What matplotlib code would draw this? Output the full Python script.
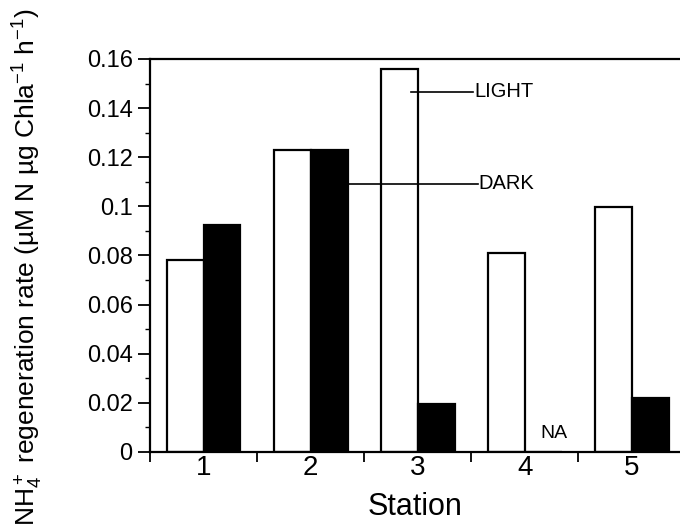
import matplotlib.pyplot as plt
import numpy as np

plt.rcParams['font.family'] = ['Liberation Sans', 'DejaVu Sans']
plt.rcParams['mathtext.fontset'] = 'custom'
plt.rcParams['mathtext.rm'] = 'Liberation Sans'
plt.rcParams['mathtext.it'] = 'Liberation Sans:italic'

# Data
stations = [1, 2, 3, 4, 5]
light = [0.078, 0.123, 0.156, 0.081, 0.0997]
dark = [0.0924, 0.123, 0.0195, np.nan, 0.022]   # station 4 not available

x = np.array(stations, dtype=float)
w = 0.345

fig = plt.figure(figsize=(6.8, 5.3), dpi=100)
ax = fig.add_axes([0.2206, 0.1472, 0.7794, 0.7415])

ax.bar(x - w / 2, light, width=w, color='white', edgecolor='black', linewidth=1.6)
ax.bar(x + w / 2, np.nan_to_num(dark), width=w, color='black', edgecolor='black', linewidth=1.6)

ax.text(x[3] + w / 2 + 0.1, 0.004, 'NA', ha='center', va='bottom', fontsize=14)

# callout labels
ax.plot([x[2] - w / 2 + 0.11, 3.52], [0.1466, 0.1466], color='black', lw=1.2)
ax.text(3.525, 0.1466, 'LIGHT', va='center', ha='left', fontsize=14.5)
ax.plot([x[1] + w, 3.565], [0.1092, 0.1092], color='black', lw=1.2)
ax.text(3.57, 0.1092, 'DARK', va='center', ha='left', fontsize=14.5)

ax.set_xlim(0.5, 5.45)
ax.set_ylim(0, 0.16)

ax.set_yticks(np.arange(0, 0.161, 0.02))
ax.set_yticklabels(['0', '0.02', '0.04', '0.06', '0.08', '0.1', '0.12', '0.14', '0.16'])
ax.set_yticks(np.arange(0.01, 0.16, 0.02), minor=True)
ax.tick_params(axis='y', which='major', direction='out', length=8.5, width=1.3, labelsize=17, pad=4)
ax.tick_params(axis='y', which='minor', direction='out', length=3.6, width=1.0)

ax.set_xticks(x)
ax.set_xticklabels([str(s) for s in stations])
ax.set_xticks(np.arange(0.5, 5.5, 1.0), minor=True)
ax.tick_params(axis='x', which='major', length=0, labelsize=20, pad=2)
ax.tick_params(axis='x', which='minor', direction='out', length=7, width=1.3)

for s in ['left', 'bottom', 'top']:
    ax.spines[s].set_linewidth(1.6)
ax.spines['right'].set_visible(False)

ax.set_xlabel('Station', fontsize=22, labelpad=8)
fig.text(28 / 680, 1 - 267 / 530,
         'NH$_4^+$ regeneration rate (\u00b5M N \u00b5g Chla$^{-1}$ h$^{-1}$)',
         rotation=90, ha='center', va='center', fontsize=19)

fig.savefig('out.png', dpi=100)
